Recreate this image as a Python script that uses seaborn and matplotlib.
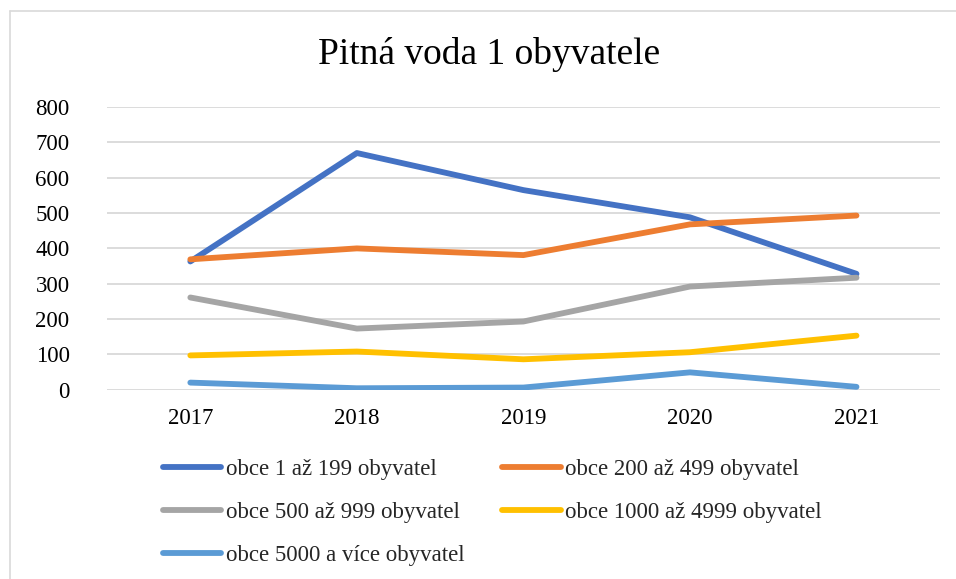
import pandas as pd
import numpy as np
import matplotlib
matplotlib.use("Agg")
import matplotlib.pyplot as plt
import seaborn as sns
from matplotlib.lines import Line2D

# ---------------------------------------------------------------------------
# Data
# ---------------------------------------------------------------------------
years = [2017, 2018, 2019, 2020, 2021]
obce_1_199 = [363, 670, 565, 488, 328]
obce_200_499 = [369, 400, 381, 468, 493]
obce_500_999 = [261, 173, 193, 292, 317]
obce_1000_4999 = [97, 108, 86, 106, 153]
obce_5000_plus = [20, 4, 6, 49, 8]

series_names = [
    "obce 1 až 199 obyvatel",
    "obce 200 až 499 obyvatel",
    "obce 500 až 999 obyvatel",
    "obce 1000 až 4999 obyvatel",
    "obce 5000 a více obyvatel",
]
series_values = [obce_1_199, obce_200_499, obce_500_999, obce_1000_4999, obce_5000_plus]
colors = ["#4472C4", "#ED7D31", "#A5A5A5", "#FFC000", "#5B9BD5"]

df = pd.concat(
    [pd.DataFrame({"Rok": years, "Hodnota": vals, "Skupina": name})
     for name, vals in zip(series_names, series_values)],
    ignore_index=True,
)

# ---------------------------------------------------------------------------
# Plot
# ---------------------------------------------------------------------------
sns.set_theme(style="white")
plt.rcParams["font.family"] = ["Liberation Serif", "DejaVu Serif"]

fig = plt.figure(figsize=(9.56, 5.79), dpi=100)
ax = fig.add_axes([0.112, 0.327, 0.871, 0.488])

sns.lineplot(
    data=df, x="Rok", y="Hodnota", hue="Skupina",
    hue_order=series_names, palette=colors,
    linewidth=4.2, solid_capstyle="round", legend=False, ax=ax,
)

ax.set_xlim(2016.5, 2021.5)
ax.set_ylim(0, 800)
ax.set_yticks(range(0, 801, 100))
ax.set_xticks(years)
ax.set_xticklabels([str(y) for y in years])
ax.yaxis.grid(True, color="#d9d9d9", linewidth=1.3)
ax.set_axisbelow(True)
for side in ["top", "right", "left", "bottom"]:
    ax.spines[side].set_visible(False)
ax.tick_params(axis="both", length=0, labelsize=16.5, colors="black")
ax.tick_params(axis="y", pad=27)
ax.tick_params(axis="x", pad=13.5)
ax.set_xlabel("")
ax.set_ylabel("")

fig.text(489 / 956, 1 - 55 / 579, "Pitná voda 1 obyvatele",
         ha="center", va="center", fontsize=27, color="black")

# legend filled row by row like the reference (matplotlib fills by column)
order = [0, 2, 4, 1, 3]
handles = [Line2D([0], [0], color=colors[i], linewidth=4.2, solid_capstyle="round")
           for i in order]
labels = [series_names[i] for i in order]
fig.legend(
    handles, labels, loc="upper left",
    bbox_to_anchor=(163 / 956, 1 - 459 / 579), ncol=2, frameon=False,
    fontsize=16.5, handlelength=2.55, handletextpad=0.2,
    columnspacing=1.65, labelspacing=0.95, borderpad=0, borderaxespad=0,
)

# outer chart border (top and left only visible in reference)
fig.add_artist(Line2D([9.5 / 956, 9.5 / 956], [0, 1 - 11 / 579],
                      transform=fig.transFigure, color="#d9d9d9", linewidth=1.2))
fig.add_artist(Line2D([9.5 / 956, 1], [1 - 11 / 579, 1 - 11 / 579],
                      transform=fig.transFigure, color="#d9d9d9", linewidth=1.2))

fig.savefig("out.png", dpi=100)
